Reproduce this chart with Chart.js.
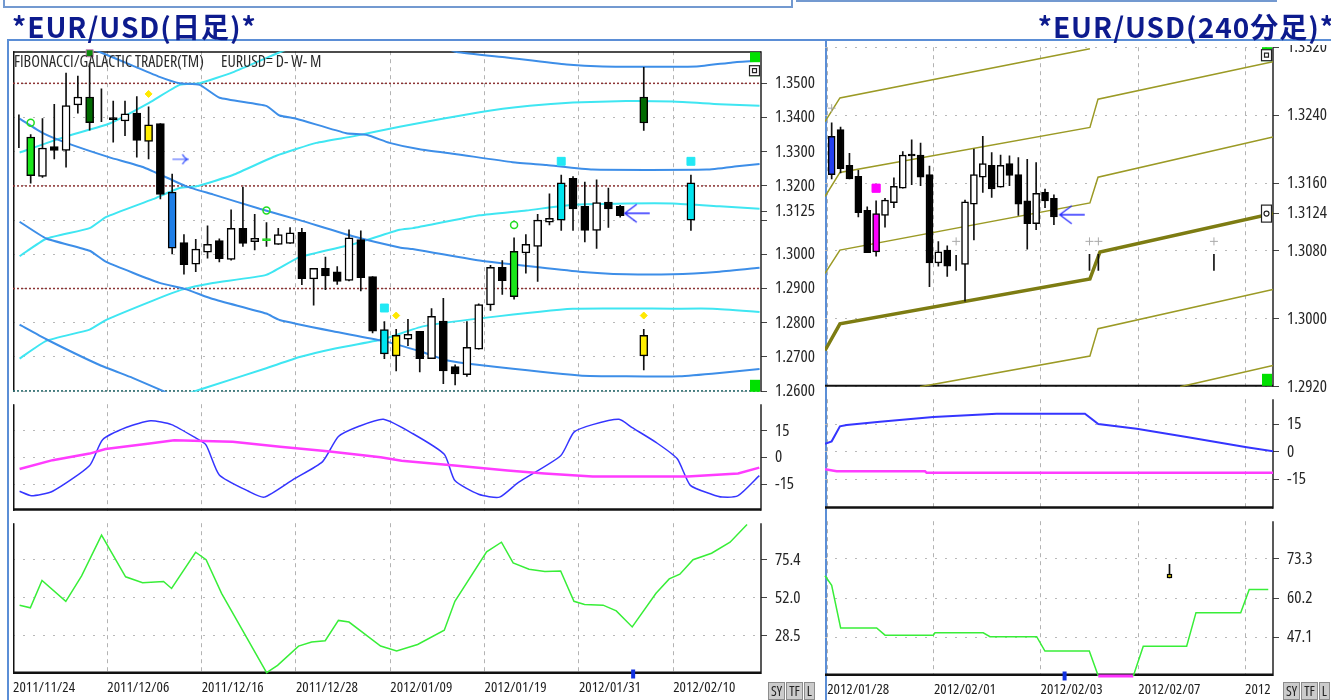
<!DOCTYPE html>
<html>
<head>
<meta charset="utf-8">
<title>EUR/USD</title>
<script src="https://cdn.jsdelivr.net/npm/chart.js@4.4.1/dist/chart.umd.min.js"></script>
<style>
  html, body { margin: 0; padding: 0; background: #fff; }
  body { position: relative; width: 1331px; height: 700px; overflow: hidden;
         font-family: "Open Sans", sans-serif; font-stretch: condensed; }
  canvas { position: absolute; z-index: 2; }
  .title { position: absolute; top: 11px; font-family: "Noto Sans CJK JP", sans-serif; font-weight: 700; font-stretch: normal;
           font-size: 28px; line-height: 30px; letter-spacing: 1px; color: #0d1b8e; white-space: nowrap; z-index: 6; }
  .line { position: absolute; box-sizing: border-box; z-index: 1; }
  .note { position: absolute; top: 51px; font-size: 16px; line-height: 20px; color: #2a2a2a; white-space: nowrap; z-index: 3; }
  .btns { position: absolute; top: 682px; display: flex; z-index: 3; }
  .btns span { display: block; height: 16px; line-height: 16px; padding: 0 2px; margin-right: 1px;
               background: #cbcbcb; border: 1px solid #8c8c8c; font-size: 14px; color: #222; }
  .mask { position: absolute; left: 1277px; top: 0; width: 54px; height: 45px; background: #fff; z-index: 4; }
</style>
</head>
<body>
<div class="line" style="left:3px;top:-14px;width:790px;height:22px;border:2px solid #7399d0;"></div>
<div class="line" style="left:796px;top:-14px;width:540px;height:16px;border:2px solid #7399d0;"></div>
<div class="line" style="left:7px;top:39px;width:820px;height:680px;border:2px solid #5b8ed6;"></div>
<div class="line" style="left:826px;top:39px;width:505px;height:2px;background:#5b8ed6;"></div>
<div class="mask"></div>
<div class="line" style="left:1277px;top:39px;width:54px;height:2px;background:#5b8ed6;z-index:5;"></div>
<div class="title" style="left:12px;">*EUR/USD(日足)*</div>
<div class="title" style="right:-4px;">*EUR/USD(240分足)*</div>
<div class="note" style="left:14px;">FIBONACCI/GALACTIC TRADER(TM)</div>
<div class="note" style="left:221px;">EURUSD= D- W- M</div>
<div class="btns" style="left:768px;"><span>SY</span><span>TF</span><span>L</span></div>
<div class="btns" style="left:1283px;"><span>SY</span><span>TF</span><span>L</span></div>

<script>
// ---------- daily (日足) ----------
const dayTicks = [0, 8, 16, 24, 32, 40, 48, 56];
const dayTickLabels = ['2011/11/24', '2011/12/06', '2011/12/16', '2011/12/28', '2012/01/09', '2012/01/19', '2012/01/31', '2012/02/10'];

// bar slots; the last three are the projected bars on the right
const dayX = [0, 1, 2, 3, 4, 5, 6, 7, 8, 9, 10, 11, 12, 13, 14, 15, 16, 17, 18, 19,
  20, 21, 22, 23, 24, 25, 26, 27, 28, 29, 30, 31, 32, 33, 34, 35, 36, 37, 38, 39,
  40, 41, 42, 43, 44, 45, 46, 47, 48, 49, 50, 51, 53, 53, 57];
const dayO = [1.3341, 1.3230, 1.3228, 1.3315, 1.3304, 1.3437, 1.3460, 1.3420, 1.3397, 1.3390,
  1.3413, 1.3379, 1.3382, 1.3182, 1.3034, 1.2971, 1.3006, 1.3040, 1.2985, 1.3076,
  1.3037, 1.3043, 1.3029, 1.3032, 1.3064, 1.2928, 1.2959, 1.2949, 1.2924, 1.3043,
  1.2935, 1.2780, 1.2703, 1.2752, 1.2775, 1.2695, 1.2805, 1.2672, 1.2648, 1.2723,
  1.2852, 1.2962, 1.2876, 1.3004, 1.3023, 1.3094, 1.3100, 1.3222, 1.3140, 1.3070,
  1.3153, 1.3140, 1.3460, 1.2703, 1.3100];
const dayH = [1.3408, 1.3350, 1.3397, 1.3439, 1.3530, 1.3521, 1.3558, 1.3484, 1.3448, 1.3448,
  1.3461, 1.3431, 1.3382, 1.3235, 1.3058, 1.3044, 1.3083, 1.3045, 1.3130, 1.3197,
  1.3117, 1.3093, 1.3076, 1.3078, 1.3076, 1.2959, 1.2992, 1.2964, 1.3072, 1.3069,
  1.2935, 1.2803, 1.2781, 1.2810, 1.2775, 1.2841, 1.2871, 1.2677, 1.2803, 1.2855,
  1.2968, 1.2982, 1.3048, 1.3058, 1.3117, 1.3177, 1.3232, 1.3227, 1.3211, 1.3218,
  1.3194, 1.3143, 1.3547, 1.2781, 1.3232];
const dayL = [1.3312, 1.3208, 1.3225, 1.3279, 1.3255, 1.3413, 1.3363, 1.3388, 1.3328, 1.3347,
  1.3284, 1.3279, 1.3162, 1.3001, 1.2942, 1.2949, 1.2989, 1.2978, 1.2983, 1.3023,
  1.3013, 1.3023, 1.3029, 1.3032, 1.2911, 1.2851, 1.2897, 1.2912, 1.2922, 1.2893,
  1.2770, 1.2695, 1.2659, 1.2733, 1.2656, 1.2695, 1.2622, 1.2618, 1.2643, 1.2723,
  1.2836, 1.2883, 1.2869, 1.2945, 1.2921, 1.3086, 1.3070, 1.3070, 1.3036, 1.3017,
  1.3079, 1.3109, 1.3362, 1.2662, 1.3070];
const dayC = [1.3341, 1.3343, 1.3311, 1.3304, 1.3435, 1.3460, 1.3385, 1.3420, 1.3397, 1.3411,
  1.3333, 1.3330, 1.3175, 1.3018, 1.2970, 1.3015, 1.3029, 1.2987, 1.3076, 1.3032,
  1.3047, 1.3043, 1.3058, 1.3063, 1.2929, 1.2959, 1.2937, 1.2921, 1.3048, 1.2932,
  1.2775, 1.2709, 1.2763, 1.2766, 1.2695, 1.2819, 1.2659, 1.2650, 1.2728, 1.2853,
  1.2962, 1.2923, 1.3009, 1.3029, 1.3100, 1.3105, 1.3209, 1.3133, 1.3070, 1.3151,
  1.3133, 1.3113, 1.3384, 1.2763, 1.3209];
// w white, k black, g green, G dark green, y yellow, c cyan, b blue, x doji, X green doji, - wick only
const dayKind = ['-', 'g', 'w', 'k', 'w', 'w', 'G', '-', 'x', 'w',
  'k', 'y', 'k', 'b', 'k', 'w', 'w', 'k', 'w', 'k',
  'w', 'X', 'w', 'w', 'k', 'w', 'k', 'k', 'w', 'k',
  'k', 'c', 'y', 'w', 'k', 'w', 'k', 'k', 'w', 'w',
  'w', 'k', 'g', 'w', 'w', 'w', 'c', 'k', 'k', 'w',
  'k', 'k', 'G', 'y', 'c'];

const dayLevels = [1.35, 1.32, 1.29];
const dayBaseLevel = 1.26;

// fibonacci bands (x in bar slots)
const blue0X = [36.2, 37.62, 41.86, 46.95, 50.01, 57.98, 61.03, 63.32];
const blue0Y = [1.3610, 1.35915, 1.35754, 1.35548, 1.35492, 1.35492, 1.35613, 1.35661];
const blue1X = [6.07, 7.35, 10.14, 12.43, 14.13, 15.83, 17.52, 21.48, 22.61, 24.03, 28.27, 29.97, 31.94, 34.49, 37.6, 42.37, 45.26, 49.16, 58.83, 61.63, 63.32];
const blue1Y = [1.36085, 1.35915, 1.35520, 1.35189, 1.35003, 1.34955, 1.34579, 1.34342, 1.34059, 1.33966, 1.33542, 1.33494, 1.33260, 1.33071, 1.32929, 1.32695, 1.32610, 1.32477, 1.32477, 1.32582, 1.32638];
const blue2X = [0.56, 2.54, 4.52, 8.19, 11.02, 14.7, 16.95, 20.92, 24.31, 28.83, 32.79, 33.89, 39.58, 48.06, 52.02, 55.95, 59.93, 63.32];
const blue2Y = [1.33966, 1.33542, 1.33260, 1.32836, 1.32554, 1.31989, 1.31754, 1.31331, 1.31000, 1.30528, 1.30201, 1.30153, 1.29822, 1.29494, 1.29418, 1.29418, 1.29494, 1.29607];
const blue3X = [0.56, 2.82, 6.5, 7.91, 12.43, 14.7, 16.95, 21.48, 22.61, 27.13, 31.37, 34.77, 36.75, 39.58, 48.06, 52.02, 56.54, 59.93, 63.32];
const blue3Y = [1.30952, 1.30463, 1.30105, 1.29777, 1.29164, 1.28975, 1.28692, 1.28268, 1.28082, 1.27751, 1.27469, 1.27138, 1.26904, 1.26763, 1.26460, 1.26432, 1.26432, 1.26528, 1.26650];
const blue4X = [0.56, 2.82, 7.35, 10.14, 13.0, 14.98];
const blue4Y = [1.27941, 1.27517, 1.26763, 1.26387, 1.25963, 1.25633];
const cyan1X = [0.56, 4.52, 8.19, 11.58, 14.13, 15.83, 18.63, 22.87, 24.31];
const cyan1Y = [1.32977, 1.33449, 1.33825, 1.34438, 1.34955, 1.35003, 1.35322, 1.35944, 1.36113];
const cyan2X = [0.56, 2.82, 6.5, 7.91, 11.87, 14.13, 15.55, 18.65, 22.33, 25.73, 28.83, 32.79, 39.58, 43.82, 47.49, 52.02, 55.97, 59.93, 63.32];
const cyan2Y = [1.29946, 1.30455, 1.30765, 1.31093, 1.31613, 1.31941, 1.31989, 1.32319, 1.32884, 1.33260, 1.33449, 1.33732, 1.34155, 1.34342, 1.34438, 1.34483, 1.34466, 1.34390, 1.34342];
const cyan3X = [0.56, 2.82, 6.5, 7.91, 11.87, 14.41, 16.95, 21.48, 24.31, 28.83, 32.79, 33.92, 39.58, 43.54, 47.49, 52.02, 55.97, 59.93, 63.32];
const cyan3Y = [1.26952, 1.27469, 1.27799, 1.28082, 1.28647, 1.28975, 1.29164, 1.29398, 1.29918, 1.30294, 1.30718, 1.30766, 1.31141, 1.31282, 1.31452, 1.31489, 1.31489, 1.31404, 1.31331];
const cyan4X = [12.43, 14.7, 16.4, 21.48, 24.31, 27.13, 31.37, 34.77, 39.58, 47.49, 55.97, 59.36, 63.32];
const cyan4Y = [1.25633, 1.25915, 1.26105, 1.26669, 1.26997, 1.27234, 1.27517, 1.27893, 1.28127, 1.28410, 1.28410, 1.28410, 1.28316];

// signal marks
const dayRingX = [1.5, 21.5, 42.5], dayRingY = [1.3385, 1.3128, 1.3086];
const dayDiamondX = [11.5, 32.5, 53.5], dayDiamondY = [1.3469, 1.2821, 1.2821];
const daySquareX = [31.5, 46.5, 57.5], daySquareY = [1.2843, 1.3272, 1.3272];
const dayTopMarkX = [6.5], dayTopMarkY = [1.3588];
const dayArrowRX = [14.2], dayArrowRY = [1.3278];
const dayArrowLX = [52.9], dayArrowLY = [1.3120];

// oscillator (middle pane)
const oscX = [0.56, 1.56, 3.36, 6.5, 7.6, 9.64, 11.67, 13.45, 15.49, 16.38, 17.5, 19.98, 21.31, 23.78, 26.26, 27.6, 29.4, 31.42,
  33.89, 36.58, 37.48, 39.49, 41.27, 42.87, 46.45, 47.58, 49.16, 51.4, 52.52, 54.54, 56.34, 57.45, 59.25, 60.15, 61.5, 63.3];
const oscBlue = [-19, -21.5, -19, -4.5, 10, 17, 20.7, 18.5, 11, 7, -9.8, -19, -22.3, -12.3, -2.3, 11.8, 17.7, 21.5,
  13.5, 1.8, -13, -20.7, -22.3, -14, 1, 14.3, 18.5, 21.5, 16.8, 8.5, -0.7, -15.7, -20.7, -22.3, -21.5, -10.2];
const oscMagX = [0.56, 3.36, 6.5, 7.85, 11.42, 13.68, 18.63, 22.66, 26.68, 31.18, 32.96, 37.45, 41.95, 45.09, 49.16, 57.21, 61.5, 63.3];
const oscMag = [-6.5, -1.5, 2.2, 4.8, 7.7, 9.7, 8.8, 6, 3.5, 0.2, -1.8, -4.5, -7.3, -9, -10.7, -10.7, -9, -5.7];

// lower pane
const lowX = [0.56, 1.47, 2.46, 4.48, 5.82, 7.51, 9.55, 10.99, 12.77, 13.45, 15.49, 16.38, 17.69, 21.51, 22.44, 24.22, 25.33, 26.48,
  27.6, 28.5, 31.18, 32.54, 34.32, 36.58, 37.48, 40.17, 41.43, 42.42, 43.77, 45.11, 46.45, 47.58, 48.48, 50.05, 51.17, 52.52,
  54.54, 55.66, 56.56, 57.68, 59.25, 60.82, 62.26];
const lowGreen = [47.4, 45.8, 62.6, 49.8, 65.5, 90.6, 64.9, 61.2, 62, 57.7, 80, 75.4, 54.7, 5.8, 10.3, 22.2, 24.7, 25.5,
  38, 37, 22.2, 19.2, 23.2, 32, 49.8, 80.3, 86.2, 73.4, 69.5, 68.1, 68.5, 49.8, 47.8, 47.4, 43.9, 34,
  54.7, 63.6, 66.5, 75.4, 79.4, 86.2, 97.1];
const dayNowX = [52.6];

// ---------- 240 minute (240分足) ----------
const h4Ticks = [-0.5, 11.5, 23.5, 34.5, 46.5];
const h4TickLabels = ['2012/01/28', '2012/02/01', '2012/02/03', '2012/02/07', '2012'];

const h4X = [0, 1, 2, 3, 4, 5, 6, 7, 8, 9, 10, 11, 12, 13, 14, 15, 16, 17, 18, 19, 20, 21, 22, 23, 24, 25, 29, 30, 43];
const h4O = [1.3215, 1.3223, 1.3181, 1.3168, 1.3128, 1.3079, 1.3122, 1.3137, 1.3154, 1.3193,
  1.3193, 1.3170, 1.3066, 1.3081, 1.3066, 1.3064, 1.3135, 1.3167, 1.3181, 1.3155,
  1.3183, 1.3170, 1.3139, 1.3112, 1.3149, 1.3142, 1.3066, 1.3066, 1.3066];
const h4H = [1.3231, 1.3226, 1.3195, 1.3175, 1.3132, 1.3139, 1.3142, 1.3166, 1.3197, 1.3211,
  1.3207, 1.3180, 1.3091, 1.3086, 1.3075, 1.3140, 1.3200, 1.3215, 1.3196, 1.3193,
  1.3192, 1.3190, 1.3188, 1.3184, 1.3153, 1.3146, 1.3076, 1.3076, 1.3076];
const h4L = [1.3165, 1.3172, 1.3165, 1.3120, 1.3078, 1.3074, 1.3108, 1.3131, 1.3154, 1.3158,
  1.3157, 1.3038, 1.3062, 1.3050, 1.3057, 1.3021, 1.3093, 1.3149, 1.3143, 1.3155,
  1.3157, 1.3122, 1.3082, 1.3105, 1.3131, 1.3111, 1.3057, 1.3057, 1.3057];
const h4C = [1.3170, 1.3177, 1.3165, 1.3125, 1.3078, 1.3124, 1.3140, 1.3156, 1.3193, 1.3193,
  1.3167, 1.3066, 1.3079, 1.3062, 1.3066, 1.3138, 1.3170, 1.3183, 1.3153, 1.3181,
  1.3169, 1.3135, 1.3112, 1.3148, 1.3139, 1.3120, 1.3066, 1.3066, 1.3066];
const h4Kind = ['B', 'k', 'k', 'k', 'k', 'm', 'w', 'w', 'w', 'x', 'k', 'k', 'w', 'k', '-',
  'w', 'w', 'w', 'k', 'w', 'k', 'k', 'k', 'w', 'k', 'k', '-', '-', '-'];

const olive1X = [-0.75, 0.93, 29.05], olive1Y = [1.32323, 1.32602, 1.33181];
const olive2X = [-0.75, 0.93, 29.05, 29.96, 49.64], olive2Y = [1.31441, 1.31725, 1.32255, 1.32588, 1.33030];
const olive3X = [-0.75, 0.93, 29.05, 29.96, 49.64], olive3Y = [1.30535, 1.30810, 1.31366, 1.31669, 1.32142];
const olive4X = [-0.75, 0.93, 29.05, 30.18, 49.64], olive4Y = [1.29628, 1.29942, 1.30470, 1.30788, 1.31241];
const olive5X = [9.93, 29.05, 29.96, 49.64], olive5Y = [1.2920, 1.29563, 1.29885, 1.30346];
const olive6X = [39.2, 49.64], olive6Y = [1.2920, 1.29450];

const h4SquareX = [5], h4SquareY = [1.31539];
const h4PlusX = [0, 14, 29, 30, 43], h4PlusY = [1.32482, 1.30913, 1.30913, 1.30913, 1.30913];
const h4ArrowX = [27.0], h4ArrowY = [1.31227];

const h4OscX = [-0.75, 0, 0.93, 1.69, 5.43, 11.43, 18.56, 28.49, 29.99, 34.31, 39.93, 46.68, 49.67];
const h4OscBlue = [4.4, 5.8, 14, 14.8, 16.5, 19.2, 20.9, 20.9, 15.3, 12.7, 8.2, 2.5, 0.3];
const h4MagX = [-0.75, 0.56, 10.5, 10.69, 49.67];
const h4Mag = [-9.5, -10.6, -10.6, -11.5, -11.5];

const h4LowX = [-0.75, 0, 1.01, 5.06, 6.0, 11.43, 11.62, 17.05, 17.81, 23.06, 23.99, 28.98, 29.99, 33.93, 35.05, 39.93, 40.98, 46.01, 46.97, 49.11];
const h4LowGreen = [67.7, 64.5, 50.3, 50.3, 47.9, 47.9, 48.7, 48.7, 47.4, 47.4, 42.6, 42.6, 34.3, 34.3, 44.2, 44.2, 55.4, 55.4, 63.1, 63.1];
const h4MiniX = [38], h4MiniO = [68.3], h4MiniH = [71.5], h4MiniL = [67.0], h4MiniC = [67.0];
const h4NowX = [26.2];

// ---------- helpers ----------
const FILL = { w: '#ffffff', k: '#000000', g: '#19e619', G: '#006a00', y: '#ffee00', c: '#00e4ef',
  b: '#1f7ee6', B: '#2440f0', m: '#ff00ff', x: '#000000', X: '#22dd22' };

function pts(xs, ys) { return xs.map((x, i) => ({ x: x, y: ys[i] })); }

function candles(xs, o, h, l, c, kind, shift, bodyW, doji) {
  const wick = xs.map((x, i) => ({ x: x + shift, y: [l[i], h[i]] }));
  const body = [], fill = [], edge = [];
  xs.forEach((x, i) => {
    const k = kind[i];
    if (k === '-') return;
    let a = o[i], b = c[i];
    if (k === 'x' || k === 'X') { a = o[i] - doji; b = o[i] + doji; }
    body.push({ x: x + shift, y: [a, b] });
    fill.push(FILL[k]);
    edge.push(k === 'X' ? FILL.X : '#000');
  });
  return [
    { type: 'bar', data: wick, backgroundColor: '#111', barThickness: 1, grouped: false, order: 3 },
    { type: 'bar', data: body, backgroundColor: fill, borderColor: edge, borderWidth: 1.5,
      borderSkipped: false, barThickness: bodyW, grouped: false, order: 2 }
  ];
}

function line(xs, ys, color, width, extra) {
  return Object.assign({ type: 'line', data: pts(xs, ys), borderColor: color, borderWidth: width,
    pointRadius: 0, fill: false, tension: 0.15, order: 5 }, extra || {});
}

function level(v, x0, x1, color, width) {
  return { type: 'line', data: [{ x: x0, y: v }, { x: x1, y: v }], borderColor: color, borderWidth: width,
    borderDash: [2, 2], pointRadius: 0, order: 6 };
}

function marks(xs, ys, style, r, fill, stroke, bw, extra) {
  return Object.assign({ type: 'line', showLine: false, data: pts(xs, ys), pointStyle: style, pointRadius: r,
    backgroundColor: fill, borderColor: stroke, pointBorderWidth: bw, order: 0 }, extra || {});
}

function arrowImg(feathered) {
  const c = document.createElement('canvas');
  const g = c.getContext('2d');
  if (!feathered) {
    c.width = 18; c.height = 12;
    g.strokeStyle = '#3b55ff'; g.lineWidth = 1.2;
    g.beginPath(); g.moveTo(1, 6); g.lineTo(16.5, 6);
    g.moveTo(11, 1); g.quadraticCurveTo(13, 5, 16.5, 6); g.quadraticCurveTo(13, 7, 11, 11);
    g.stroke();
  } else {
    c.width = 28; c.height = 22;
    g.strokeStyle = '#2a2cff'; g.lineWidth = 1.3;
    g.beginPath(); g.moveTo(2, 11); g.lineTo(27, 11);
    g.moveTo(14, 2); g.quadraticCurveTo(6, 8, 2, 11); g.quadraticCurveTo(6, 14, 14, 20);
    g.stroke();
  }
  return c;
}

// panel chrome: frame lines and the small corner boxes
const chrome = {
  id: 'chrome',
  beforeDatasetsDraw(chart, args, opts) {
    const { ctx, chartArea: a } = chart;
    ctx.save();
    (opts.sides || []).forEach(([side, color, w]) => {
      ctx.strokeStyle = color; ctx.lineWidth = w; ctx.beginPath();
      if (side === 'top') { ctx.moveTo(a.left, a.top + w / 2); ctx.lineTo(a.right, a.top + w / 2); }
      if (side === 'bottom') { ctx.moveTo(a.left, a.bottom - w / 2); ctx.lineTo(a.right, a.bottom - w / 2); }
      if (side === 'left') { ctx.moveTo(a.left + w / 2, a.top); ctx.lineTo(a.left + w / 2, a.bottom); }
      if (side === 'right') { ctx.moveTo(a.right, a.top); ctx.lineTo(a.right, a.bottom); }
      ctx.stroke();
    });
    ctx.restore();
  },
  afterDatasetsDraw(chart, args, opts) {
    const { ctx, chartArea: a } = chart;
    ctx.save();
    (opts.boxes || []).forEach(b => {
      const y = b.value !== undefined ? chart.scales.y.getPixelForValue(b.value) - b.h / 2
        : (b.from === 'bottom' ? a.bottom - b.dy - b.h : a.top + b.dy);
      const x = a.right - b.w - 1;
      if (b.fill) { ctx.fillStyle = b.fill; ctx.fillRect(x, y, b.w, b.h); }
      if (b.icon) {
        ctx.fillStyle = '#fff'; ctx.fillRect(x, y, b.w, b.h);
        ctx.strokeStyle = '#222'; ctx.lineWidth = 1.2; ctx.strokeRect(x + 0.5, y + 0.5, b.w - 1, b.h - 1);
        ctx.beginPath();
        if (b.icon === 'ring') ctx.arc(x + b.w / 2, y + b.h / 2, 2.5, 0, Math.PI * 2);
        else ctx.rect(x + b.w / 2 - 2, y + b.h / 2 - 2, 4, 4);
        ctx.stroke();
      }
    });
    ctx.restore();
  }
};
Chart.register(chrome);

// tick text: Open Sans in its condensed width (passed through the weight slot of the font string)
Chart.defaults.font.family = '"Open Sans", sans-serif';
Chart.defaults.font.weight = 'condensed';
Chart.defaults.color = '#262626';

const PAD = 12, PADL = 8;

function panel(o) {
  const cv = document.createElement('canvas');
  cv.width = PADL + o.w + o.axisW;
  cv.height = PAD + o.h + (o.bottomH || PAD);
  cv.style.left = (o.left - PADL) + 'px';
  cv.style.top = (o.top - PAD) + 'px';
  document.body.appendChild(cv);
  return new Chart(cv, {
    type: 'bar',
    data: { datasets: o.datasets },
    options: {
      responsive: false, animation: false, events: [], devicePixelRatio: 1,
      layout: { autoPadding: false, padding: { top: PAD, bottom: o.bottomH ? 0 : PAD, left: PADL, right: 0 } },
      plugins: { legend: { display: false }, tooltip: { enabled: false }, chrome: o.chrome },
      scales: {
        x: {
          type: 'linear', min: o.xmin, max: o.xmax, offset: false,
          grid: { offset: false, color: '#b3b3b3', lineWidth: 1, drawTicks: false },
          border: { display: false, dash: [4, 4] },
          ticks: { display: !!o.bottomH, autoSkip: false, maxRotation: 0, minRotation: 0, align: 'start', padding: 5,
            color: '#1e1e1e', font: { size: 15, weight: 'condensed' },
            callback: v => { const k = o.xTicks.indexOf(v); return k < 0 ? '' : o.xLabels[k]; } },
          afterBuildTicks: s => { s.ticks = o.xTicks.map(v => ({ value: v })); },
          afterFit: s => { s.height = o.bottomH || 0; }
        },
        y: {
          type: 'linear', position: 'right', min: o.ymin, max: o.ymax, beginAtZero: false,
          grid: { color: c => (c.tick && (o.yNoGrid || []).includes(c.tick.value)) ? 'rgba(0,0,0,0)' : '#b8b8b8',
            lineWidth: 1, drawTicks: true, tickLength: 6, tickColor: '#444', tickWidth: 1, tickBorderDash: [] },
          border: { display: false, dash: [2, 8] },
          ticks: { autoSkip: false, padding: 8, color: '#262626', font: { size: 17, weight: 'condensed' },
            callback: v => (o.yHide || []).includes(v) ? '' : v.toFixed(o.yDigits) },
          afterBuildTicks: s => { s.ticks = o.yTicks.map(v => ({ value: v })); },
          afterFit: s => { s.width = o.axisW; }
        }
      }
    }
  });
}

// ---------- build daily panels ----------
const DX0 = 0, DX1 = 748 / 11.79;
const arrowR = arrowImg(false), arrowL = arrowImg(true);

panel({
  left: 13, top: 45, w: 748, h: 353, axisW: 62, xmin: DX0, xmax: DX1, xTicks: dayTicks, xLabels: dayTickLabels,
  ymin: 1.2598, ymax: 1.3594, yDigits: 4,
  yTicks: [1.26, 1.27, 1.28, 1.29, 1.30, 1.31, 1.3125, 1.32, 1.33, 1.34, 1.35], yHide: [1.31], yNoGrid: [1.3125],
  chrome: {
    sides: [['top', '#111', 1.5], ['left', '#111', 1.5], ['right', '#222', 1.5]],
    boxes: [{ dy: 1, w: 10, h: 10, fill: '#00e000' }, { dy: 14, w: 11, h: 11, icon: 'sq' },
            { from: 'bottom', dy: 0, w: 10, h: 12, fill: '#00e000' }]
  },
  datasets: [
    ...candles(dayX, dayO, dayH, dayL, dayC, dayKind, 0.5, 8, 0.0003),
    ...dayLevels.map(v => level(v, DX0, DX1, '#8c3434', 1.5)),
    level(dayBaseLevel, DX0, DX1, '#2e6e70', 2),
    line(blue0X, blue0Y, '#3d8ee8', 2), line(blue1X, blue1Y, '#3d8ee8', 2), line(blue2X, blue2Y, '#3d8ee8', 2),
    line(blue3X, blue3Y, '#3d8ee8', 2), line(blue4X, blue4Y, '#3d8ee8', 2),
    line(cyan1X, cyan1Y, '#3fe6f2', 2), line(cyan2X, cyan2Y, '#3fe6f2', 2), line(cyan3X, cyan3Y, '#3fe6f2', 2),
    line(cyan4X, cyan4Y, '#3fe6f2', 2),
    marks(dayRingX, dayRingY, 'circle', 3.5, 'rgba(0,0,0,0)', '#22dd22', 1.5),
    marks(dayDiamondX, dayDiamondY, 'rectRot', 3.5, '#ffe800', '#ffe800', 1),
    marks(daySquareX, daySquareY, 'rect', 5.6, '#22e8f4', '#22e8f4', 1),
    marks(dayTopMarkX, dayTopMarkY, 'rect', 5, '#0a8a0a', '#d080c0', 1, { clip: false }),
    marks(dayArrowRX, dayArrowRY, arrowR, 9, '#00f', '#00f', 1),
    marks(dayArrowLX, dayArrowLY, arrowL, 12, '#00f', '#00f', 1)
  ]
});

panel({
  left: 13, top: 398, w: 748, h: 119, axisW: 62, xmin: DX0, xmax: DX1, xTicks: dayTicks, xLabels: dayTickLabels,
  ymin: -30, ymax: 30, yDigits: 0, yTicks: [-15, 0, 15],
  chrome: { sides: [['left', '#111', 1.5], ['right', '#222', 1.5], ['bottom', '#111', 2.5]] },
  datasets: [
    line(oscMagX, oscMag, '#ff3cff', 2.5, { tension: 0 }),
    line(oscX, oscBlue, '#3535ff', 1.5, { tension: 0.2 })
  ]
});

panel({
  left: 13, top: 517, w: 748, h: 157, axisW: 62, bottomH: 26, xmin: DX0, xmax: DX1, xTicks: dayTicks, xLabels: dayTickLabels,
  ymin: 5.0, ymax: 97.9, yDigits: 1, yTicks: [28.5, 52.0, 75.4],
  chrome: { sides: [['left', '#111', 1.5], ['right', '#222', 1.5], ['bottom', '#111', 2.5]] },
  datasets: [
    line(lowX, lowGreen, '#38ee38', 1.5, { tension: 0 }),
    marks(dayNowX, [5.0], 'line', 4.5, '#1030e0', '#1030e0', 4, { rotation: 90, clip: false })
  ]
});

// ---------- build 240 minute panels ----------
const HX0 = -0.75, HX1 = -0.75 + 448 / 8.89;

panel({
  left: 825, top: 41, w: 448, h: 352, axisW: 58, xmin: HX0, xmax: HX1, xTicks: h4Ticks, xLabels: h4TickLabels,
  ymin: 1.2920, ymax: 1.3320, yDigits: 4,
  yTicks: [1.2920, 1.3000, 1.3080, 1.3124, 1.3160, 1.3240, 1.3320], yNoGrid: [1.3124],
  chrome: {
    sides: [['right', '#222', 1.5], ['bottom', '#111', 2]],
    boxes: [{ dy: 0, w: 10, h: 3, fill: '#00e000' }, { dy: 2, w: 11, h: 12, icon: 'sq' },
            { value: 1.3124, w: 11, h: 18, icon: 'ring' },
            { from: 'bottom', dy: 1, w: 10, h: 12, fill: '#00e000' }]
  },
  datasets: [
    ...candles(h4X, h4O, h4H, h4L, h4C, h4Kind, 0, 7, 0.0001),
    line(olive1X, olive1Y, '#9b9a25', 1.5, { tension: 0 }),
    line(olive2X, olive2Y, '#9b9a25', 1.5, { tension: 0 }),
    line(olive3X, olive3Y, '#9b9a25', 1.5, { tension: 0 }),
    line(olive4X, olive4Y, '#7d7c12', 3.5, { tension: 0 }),
    line(olive5X, olive5Y, '#9b9a25', 1.5, { tension: 0 }),
    line(olive6X, olive6Y, '#9b9a25', 1.5, { tension: 0 }),
    marks(h4SquareX, h4SquareY, 'rect', 5.8, '#ff00ff', '#ff00ff', 1),
    marks(h4PlusX, h4PlusY, 'cross', 4, '#aaa', '#aaa', 1),
    marks(h4ArrowX, h4ArrowY, arrowL, 12, '#00f', '#00f', 1)
  ]
});

panel({
  left: 825, top: 393, w: 448, h: 122, axisW: 58, xmin: HX0, xmax: HX1, xTicks: h4Ticks, xLabels: h4TickLabels,
  ymin: -31.2, ymax: 28.9, yDigits: 0, yTicks: [-15, 0, 15],
  chrome: { sides: [['right', '#222', 1.5], ['bottom', '#111', 2.5]] },
  datasets: [
    line(h4MagX, h4Mag, '#ff3cff', 2.5, { tension: 0 }),
    line(h4OscX, h4OscBlue, '#3535ff', 2, { tension: 0 })
  ]
});

panel({
  left: 825, top: 515, w: 448, h: 161, axisW: 58, bottomH: 24, xmin: HX0, xmax: HX1, xTicks: h4Ticks, xLabels: h4TickLabels,
  ymin: 34.27, ymax: 85.9, yDigits: 1, yTicks: [47.1, 60.2, 73.3],
  chrome: { sides: [['right', '#222', 1.5], ['bottom', '#111', 2.5]] },
  datasets: [
    ...candles(h4MiniX, h4MiniO, h4MiniH, h4MiniL, h4MiniC, ['y'], 0, 5, 0),
    line(h4LowX, h4LowGreen, '#38ee38', 1.5, { tension: 0, clip: 3,
      segment: { borderColor: c => (c.p0.parsed.y < 34.5 && c.p1.parsed.y < 34.5) ? '#ff30ff' : undefined,
                 borderWidth: c => (c.p0.parsed.y < 34.5 && c.p1.parsed.y < 34.5) ? 3 : undefined } }),
    marks(h4NowX, [34.27], 'line', 4.5, '#1030e0', '#1030e0', 4, { rotation: 90, clip: false })
  ]
});
</script>
</body>
</html>
